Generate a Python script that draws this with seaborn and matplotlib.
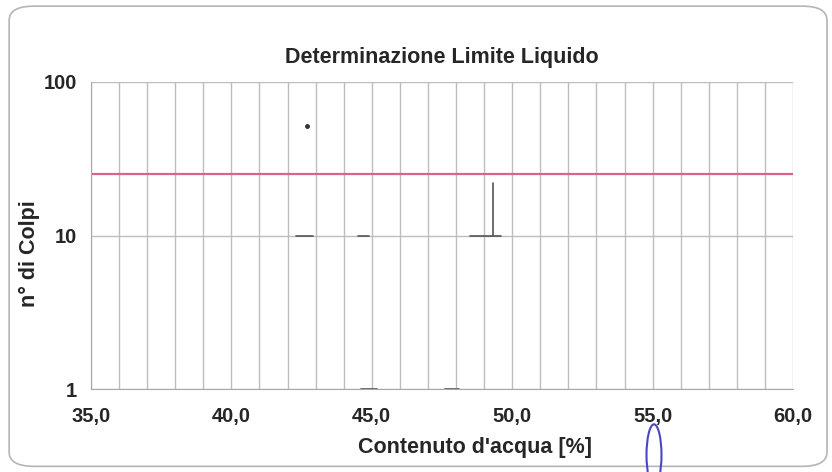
import numpy as np
import pandas as pd
import matplotlib.pyplot as plt
import seaborn as sns
from matplotlib.patches import FancyBboxPatch, Ellipse
from matplotlib.ticker import FixedLocator, MultipleLocator, FuncFormatter

# Limite liquido: linea orizzontale a 25 colpi
limit_x = [35.0, 60.0]
limit_y = [25, 25]

# residui di scansione (segmenti tracciati sul grafico)
seg_x0 = [42.3, 44.5, 48.5, 49.3, 44.6, 47.6]
seg_x1 = [42.9, 44.9, 49.6, 49.3, 45.2, 48.1]
seg_y0 = [10, 10, 10, 10, 1, 1]
seg_y1 = [10, 10, 10, 22, 1, 1]
dot_x = [42.7]
dot_y = [52]

sns.set_style("white")
plt.rcParams['font.family'] = ['Liberation Sans', 'DejaVu Sans']

fig = plt.figure(figsize=(8.32, 4.72), dpi=100)
ax = fig.add_axes([0.1094, 0.1758, 0.8437, 0.6505])

# cornice arrotondata
frame = FancyBboxPatch((0.011, 0.012), 0.983, 0.975, boxstyle="round,pad=0,rounding_size=0.03",
                       transform=fig.transFigure, fill=False, edgecolor='#b5b5b5', lw=1.2)
fig.patches.append(frame)

df = pd.DataFrame({'x': limit_x, 'y': limit_y})
sns.lineplot(data=df, x='x', y='y', ax=ax, color='#d6658f', lw=1.6)

for a, b, c, d in zip(seg_x0, seg_x1, seg_y0, seg_y1):
    ax.plot([a, b], [c, d], color='#555555', lw=1.2)
ax.plot(dot_x, dot_y, marker='o', ms=2.5, color='#333333', ls='none')

ax.set_yscale('log')
ax.set_xlim(35, 60)
ax.set_ylim(1, 100)
ax.yaxis.set_major_locator(FixedLocator([1, 10, 100]))
ax.yaxis.set_minor_locator(FixedLocator([]))
ax.yaxis.set_major_formatter(FuncFormatter(lambda v, p: '%d' % v))
ax.xaxis.set_major_locator(MultipleLocator(5))
ax.xaxis.set_minor_locator(MultipleLocator(1))
ax.xaxis.set_major_formatter(FuncFormatter(lambda v, p: ('%.1f' % v).replace('.', ',')))

ax.grid(True, which='both', axis='x', color='#bdbdbd', lw=1.0)
ax.grid(True, which='major', axis='y', color='#bdbdbd', lw=1.0)
for s in ['top', 'right']:
    ax.spines[s].set_visible(False)
for s in ['left', 'bottom']:
    ax.spines[s].set_color('#a8a8a8')
ax.tick_params(axis='both', which='major', labelsize=14.5, length=4, color='#a8a8a8', pad=6)
ax.tick_params(axis='x', which='major', pad=9)
ax.tick_params(axis='x', which='minor', length=3, color='#a8a8a8')
for lab in ax.get_xticklabels() + ax.get_yticklabels():
    lab.set_fontweight('bold')

ax.set_title('Determinazione Limite Liquido', fontsize=15.5, fontweight='bold', pad=14)
ax.set_xlabel("Contenuto d'acqua [%]", fontsize=15.5, fontweight='bold')
ax.set_ylabel('n° di Colpi', fontsize=15.5, fontweight='bold')
ax.xaxis.set_label_coords(0.547, -0.155)
ax.yaxis.set_label_coords(-0.072, 0.44)

# segno a penna blu
fig.patches.append(Ellipse((654 / 832, 1 - 455 / 472), 0.018, 0.13, transform=fig.transFigure,
                           fill=False, edgecolor='#4a45c8', lw=1.5))

fig.savefig('out.png', dpi=100)
